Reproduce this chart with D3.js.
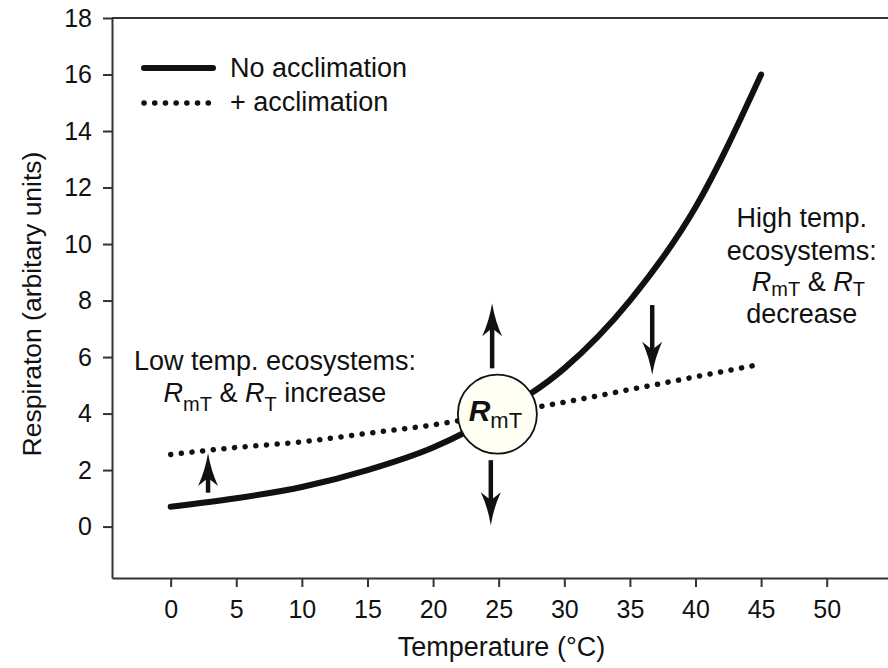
<!DOCTYPE html>
<html>
<head>
<meta charset="utf-8">
<script src="https://cdn.jsdelivr.net/npm/d3@7"></script>
<style>
  body { margin: 0; background: #fff; }
  text { font-family: "Liberation Sans", Arial, Helvetica, sans-serif; fill: #111; }
</style>
</head>
<body>
<div id="chart-area"></div>
<script>
// values
var temps = [0, 5, 10, 15, 20, 25, 30, 35, 40, 45]
var noAcclim = [0.7, 1.0, 1.4, 2.0, 2.8, 4.0, 5.6, 8.0, 11.3, 16.0]
var withAcclim = [2.55, 2.8, 3.0, 3.3, 3.6, 4.0, 4.4, 4.85, 5.3, 5.75]
var xTicks = [0, 5, 10, 15, 20, 25, 30, 35, 40, 45, 50]
var yTicks = [0, 2, 4, 6, 8, 10, 12, 14, 16, 18]

// arrows: [temp, from, to]
var arrows = [[24.5, 5.6, 7.9], [24.4, 2.35, 0.05], [36.7, 7.84, 5.37], [2.85, 1.2, 2.6]]
var marker = { t: 24.9, r: 3.98 }

var W = 888, H = 668
var margin = { top: 18, left: 112, bottom: 90, right: 0 }
var width = W - margin.left - margin.right
var height = H - margin.top - margin.bottom

var svg = d3.select('#chart-area').append('svg')
    .attr('width', W)
    .attr('height', H)

var g = svg.append('g').attr('transform', `translate(${margin.left}, ${margin.top})`)

var x = d3.scaleLinear().domain([-4.47, 54.67]).range([0, width])
var y = d3.scaleLinear().domain([-1.82, 18]).range([height, 0])

// frame
g.append('line').attr('x1', 0).attr('x2', width + 10).attr('y1', 0).attr('y2', 0)
    .attr('stroke', '#333').attr('stroke-width', 2)

var xAxis = g.append('g').attr('transform', `translate(0, ${height})`)
    .call(d3.axisBottom(x).tickValues(xTicks).tickSize(9).tickPadding(13).tickSizeOuter(0))
var yAxis = g.append('g')
    .call(d3.axisLeft(y).tickValues(yTicks).tickSize(9).tickPadding(11).tickSizeOuter(0))

;[xAxis, yAxis].forEach(a => {
  a.select('.domain').attr('stroke', '#333').attr('stroke-width', 2)
  a.selectAll('.tick line').attr('stroke', '#333').attr('stroke-width', 2)
  a.selectAll('.tick text').attr('font-size', '25px').attr('fill', '#111')
    .style('font-family', '"Liberation Sans", Arial, sans-serif')
})

// axis titles
g.append('text')
    .attr('x', 501.5 - margin.left)
    .attr('y', height + 78)
    .attr('text-anchor', 'middle')
    .attr('font-size', '27px')
    .text('Temperature (°C)')

g.append('text')
    .attr('x', -(304 - margin.top))
    .attr('y', -71)
    .attr('text-anchor', 'middle')
    .attr('transform', 'rotate(-90)')
    .attr('font-size', '26.5px')
    .text('Respiraton (arbitary units)')

// curves
var line = d3.line()
    .x(d => x(d[0]))
    .y(d => y(d[1]))
    .curve(d3.curveMonotoneX)

g.append('path')
    .datum(d3.zip(temps, withAcclim))
    .attr('d', line)
    .attr('fill', 'none')
    .attr('stroke', '#111')
    .attr('stroke-width', 5.5)
    .attr('stroke-linecap', 'round')
    .attr('stroke-dasharray', '0.1 10.6')

g.append('path')
    .datum(d3.zip(temps, noAcclim))
    .attr('d', line)
    .attr('fill', 'none')
    .attr('stroke', '#111')
    .attr('stroke-width', 6)
    .attr('stroke-linecap', 'round')

// legend
var legend = g.append('g').attr('transform', 'translate(32, 50)')
legend.append('line').attr('x1', 0).attr('x2', 69).attr('y1', 0).attr('y2', 0)
    .attr('stroke', '#111').attr('stroke-width', 6).attr('stroke-linecap', 'round')
legend.append('line').attr('x1', 0).attr('x2', 69).attr('y1', 35).attr('y2', 35)
    .attr('stroke', '#111').attr('stroke-width', 5.5).attr('stroke-linecap', 'round')
    .attr('stroke-dasharray', '0.1 10.6')
legend.append('text').attr('x', 86).attr('y', 0).attr('dy', '0.35em').attr('font-size', '27px').text('No acclimation')
legend.append('text').attr('x', 86).attr('y', 34).attr('dy', '0.35em').attr('font-size', '27px').text('+ acclimation')

// arrows
arrows.forEach(a => {
  var ax = x(a[0]), y0 = y(a[1]), y1 = y(a[2])
  var dir = y1 < y0 ? 1 : -1
  g.append('line')
      .attr('x1', ax).attr('x2', ax)
      .attr('y1', y0).attr('y2', y1 + dir * 20)
      .attr('stroke', '#111').attr('stroke-width', 4.5)
  g.append('path')
      .attr('d', `M${ax},${y1} Q${ax - 3},${y1 + dir * 18} ${ax - 10},${y1 + dir * 33} L${ax},${y1 + dir * 25} L${ax + 10},${y1 + dir * 33} Q${ax + 3},${y1 + dir * 18} ${ax},${y1} Z`)
      .attr('fill', '#111')
})

// RmT marker
var cx = x(marker.t), cy = y(marker.r)
g.append('circle').attr('cx', cx).attr('cy', cy).attr('r', 39.5)
    .attr('fill', '#fffff4').attr('stroke', '#111').attr('stroke-width', 1.8)
var mt = g.append('text').attr('x', cx - 2).attr('y', cy + 7).attr('text-anchor', 'middle')
mt.append('tspan').attr('font-size', '30px').attr('font-weight', 'bold').attr('font-style', 'italic').text('R')
mt.append('tspan').attr('font-size', '22px').attr('dy', 7).text('mT')

// annotations
function rLabel(sel, parts, drop) {
  parts.forEach(p => {
    var ts = sel.append('tspan').text(p.t)
    if (p.i) ts.attr('font-style', 'italic')
    if (p.sub) ts.attr('font-size', '20px').attr('dy', drop)
    if (p.up) ts.attr('dy', -drop)
  })
}

var low = g.append('g').attr('font-size', '27px')
low.append('text').attr('x', x(7.95)).attr('y', y(5.54)).attr('text-anchor', 'middle').text('Low temp. ecosystems:')
rLabel(low.append('text').attr('x', x(7.95)).attr('y', y(4.42)).attr('text-anchor', 'middle'),
  [{ t: 'R', i: true }, { t: 'mT', sub: true }, { t: ' & ', up: true }, { t: 'R', i: true }, { t: 'T', sub: true }, { t: ' increase', up: true }], 9)

var high = g.append('g').attr('font-size', '27px')
high.append('text').attr('x', x(48.1)).attr('y', y(10.6)).attr('text-anchor', 'middle').text('High temp.')
high.append('text').attr('x', x(48.1)).attr('y', y(9.45)).attr('text-anchor', 'middle').text('ecosystems:')
rLabel(high.append('text').attr('x', x(48.6)).attr('y', y(8.35)).attr('text-anchor', 'middle'),
  [{ t: 'R', i: true }, { t: 'mT', sub: true }, { t: ' & ', up: true }, { t: 'R', i: true }, { t: 'T', sub: true }], 5)
high.append('text').attr('x', x(48.1)).attr('y', y(7.2)).attr('text-anchor', 'middle').text('decrease')
</script>
</body>
</html>
